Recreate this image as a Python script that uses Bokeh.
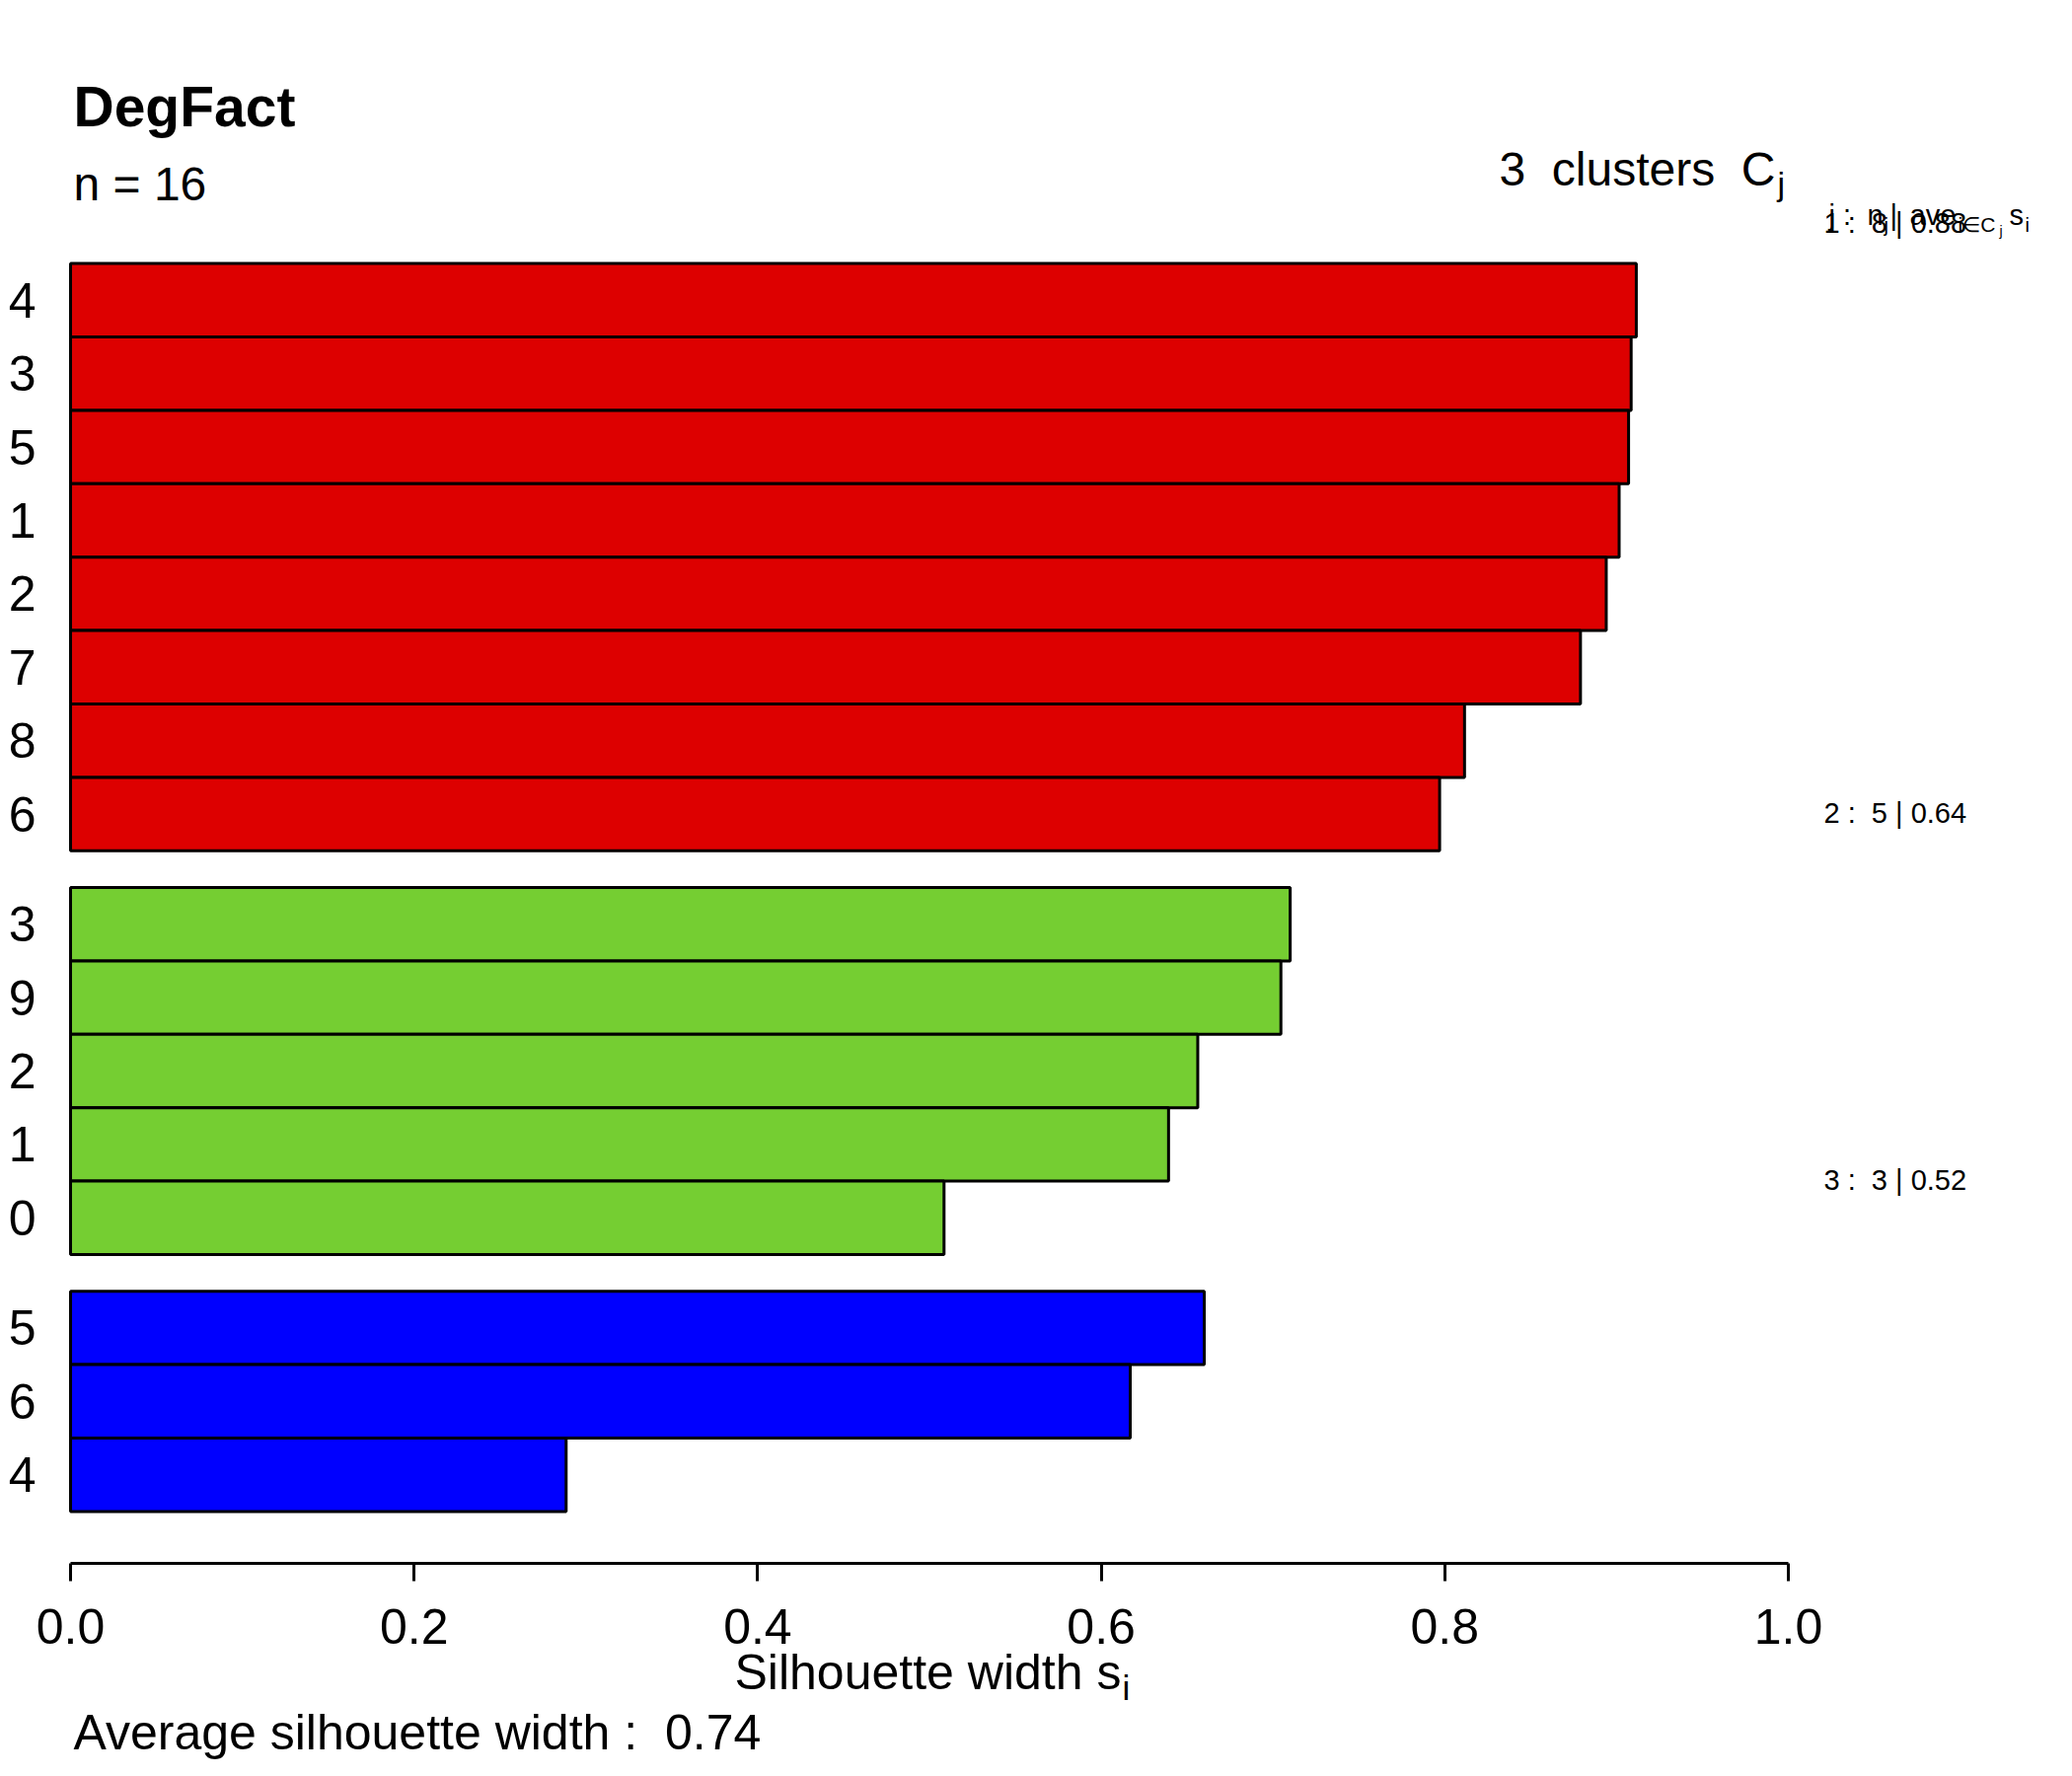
from bokeh.plotting import figure
from bokeh.models import Range1d, FixedTicker, Label, ColumnDataSource, NumeralTickFormatter, LinearAxis
from bokeh.embed import file_html
from bokeh.resources import INLINE

# ---------------- data ----------------
chart_title = "DegFact"
n_total = 16
cluster_ids = [1, 2, 3]
cluster_sizes = [8, 5, 3]
cluster_avg = [0.88, 0.64, 0.52]
overall_avg = 0.74

c1_labels = ["4", "3", "5", "1", "2", "7", "8", "6"]
c1_values = [0.9115, 0.9085, 0.907, 0.9015, 0.894, 0.879, 0.8115, 0.797]
c2_labels = ["3", "9", "2", "1", "0"]
c2_values = [0.710, 0.7046, 0.6562, 0.6392, 0.5085]
c3_labels = ["5", "6", "4"]
c3_values = [0.660, 0.6169, 0.2885]

x_ticks = [0.0, 0.2, 0.4, 0.6, 0.8, 1.0]
cluster_colors = ["#DD0000", "#75CE32", "#0000FF"]

# ---------------- layout (picture pixels) ----------------
FONT = "Liberation Sans"
NB = "\u00a0"
W, H = 2084, 1784
X0, X1 = 71.0, 1812.0          # x of s=0 and s=1
ROW_TOP, ROW_H = 266.6, 74.4   # y of first bar top, bar height
AXIS_Y = 1584.0
GAP = 0.5                      # gap between clusters, in bar heights

def fx(px):
    return (px - X0) / (X1 - X0)

def fy(py):
    return (py - ROW_TOP) / ROW_H

p = figure(
    frame_width=W, frame_height=H,
    min_border_left=0, min_border_right=0,
    min_border_top=0, min_border_bottom=0,
    x_range=Range1d(fx(0), fx(W)),
    y_range=Range1d(fy(H), fy(0)),
    x_axis_location=None, y_axis_location=None,
    output_backend="svg", toolbar_location=None,
)
p.outline_line_color = None
p.xgrid.visible = False
p.ygrid.visible = False
p.background_fill_color = "white"
p.border_fill_color = "white"

# ---------------- bars ----------------
groups = [(c1_labels, c1_values), (c2_labels, c2_values), (c3_labels, c3_values)]
tick_pos = []
tick_lab = {}
start = 0.0
for (labs, vals), col in zip(groups, cluster_colors):
    centers = [start + i + 0.5 for i in range(len(vals))]
    src = ColumnDataSource(dict(y=centers, right=vals))
    p.hbar(y="y", height=1.0, left=0, right="right", source=src,
           fill_color=col, line_color="black", line_width=3)
    for c, l in zip(centers, labs):
        tick_pos.append(c)
        tick_lab[c] = l
    start += len(vals) + GAP

# ---------------- axes ----------------
xa = LinearAxis(fixed_location=fy(AXIS_Y), bounds=(0, 1))
xa.ticker = FixedTicker(ticks=x_ticks)
xa.formatter = NumeralTickFormatter(format="0.0")
xa.axis_line_width = 3
xa.major_tick_line_width = 3
xa.major_tick_out = 18
xa.major_tick_in = 0
xa.minor_tick_out = 0
xa.minor_tick_in = 0
xa.major_label_text_font = FONT
xa.major_label_text_font_size = "50px"
xa.major_label_text_color = "black"
xa.major_label_standoff = 28
p.add_layout(xa, "below")

ya = LinearAxis(fixed_location=0.0)
ya.ticker = FixedTicker(ticks=tick_pos)
ya.major_label_overrides = tick_lab
ya.axis_line_color = None
ya.major_tick_line_color = None
ya.minor_tick_line_color = None
ya.major_tick_out = 0
ya.major_tick_in = 0
ya.major_label_text_font = FONT
ya.major_label_text_font_size = "50px"
ya.major_label_text_color = "black"
ya.major_label_standoff = 35
p.add_layout(ya, "left")

# ---------------- texts ----------------
def lab(text, px, py, size, align="left", style="normal"):
    # py is the wanted baseline; Bokeh puts the bottom of the line box there
    p.add_layout(Label(x=fx(px), y=fy(py - 0.4 * size), text=text, text_font=FONT,
                       text_font_size=f"{size}px", text_font_style=style,
                       text_align=align, text_baseline="alphabetic",
                       text_color="black"))

lab(chart_title, 74, 130, 57, style="bold")
lab(f"n = {n_total}", 74, 205, 48)

lab(f"{len(cluster_ids)}{NB} clusters{NB} C", 1799, 190, 48, align="right")
lab("j", 1801, 199, 34)

# header of the cluster table (overlapping the first row, as in the reference)
lab("j :", 1853, 229, 29)
lab("n", 1892, 229, 29)
lab("j", 1909, 235, 20)
lab("|", 1915, 229, 29)
lab("ave", 1935, 229, 29)
lab("i\u2208C", 1984, 235, 21)
lab("j", 2026, 239, 14)
lab("s", 2036, 229, 29)
lab("i", 2052, 235, 20)

cluster_label_y = [237, 835, 1207]
for cid, sz, av, yy in zip(cluster_ids, cluster_sizes, cluster_avg, cluster_label_y):
    lab(f"{cid} :{NB} {sz} | {av:.2f}", 1848, yy, 29)

lab("Silhouette width s", 744, 1714, 50)
lab("i", 1137, 1724, 35)
lab(f"Average silhouette width :{NB} {overall_avg:.2f}", 74, 1775, 50)

open("out.html", "w").write(file_html(p, INLINE))
